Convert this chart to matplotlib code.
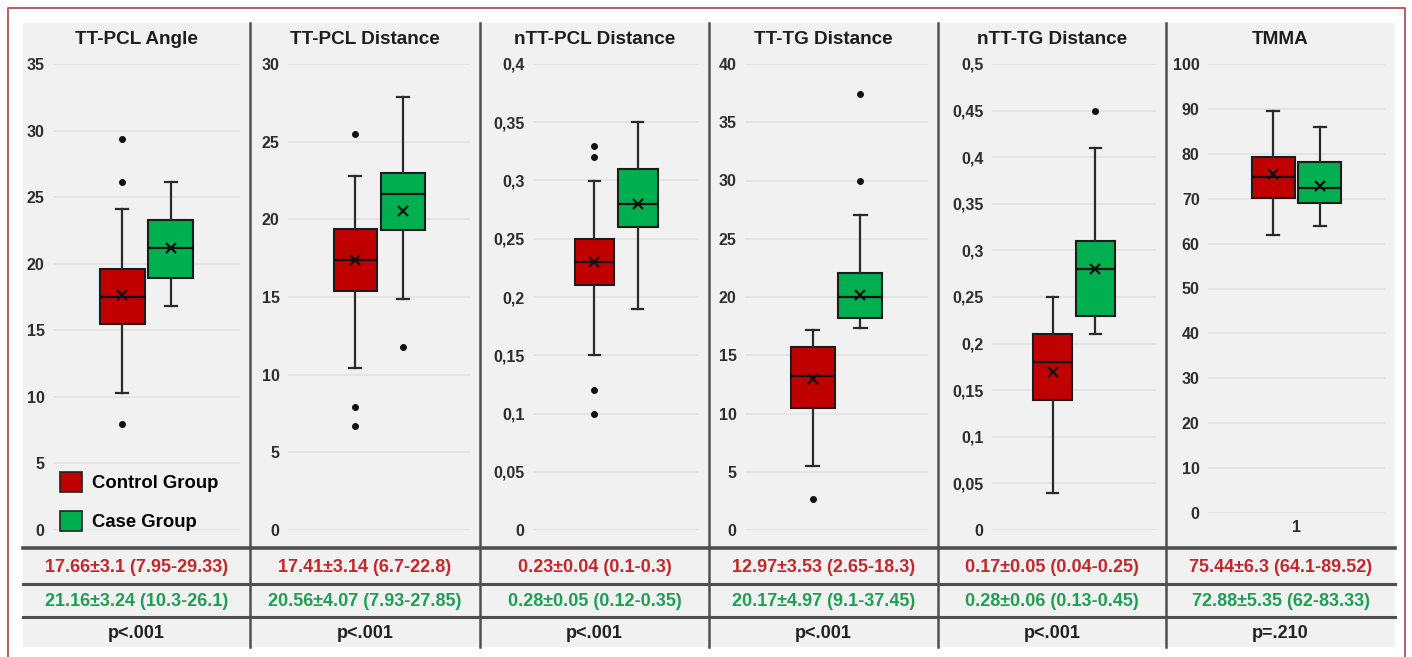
import matplotlib
matplotlib.use("Agg")
import matplotlib.pyplot as plt
from matplotlib.patches import Rectangle, Patch
from matplotlib.lines import Line2D
from matplotlib.ticker import FuncFormatter, MultipleLocator

plt.rcParams['font.family'] = ['Liberation Sans', 'DejaVu Sans']

# ---- data ---------------------------------------------------------------
titles = ["TT-PCL Angle", "TT-PCL Distance", "nTT-PCL Distance",
          "TT-TG Distance", "nTT-TG Distance", "TMMA"]
y_max = [35, 30, 0.4, 40, 0.5, 100]
y_step = [5, 5, 0.05, 5, 0.05, 10]

# Control group box statistics
ctrl_whislo = [10.3, 10.4, 0.15, 5.5, 0.04, 62.0]
ctrl_q1 = [15.5, 15.4, 0.21, 10.5, 0.14, 70.1]
ctrl_med = [17.5, 17.4, 0.23, 13.2, 0.18, 74.8]
ctrl_q3 = [19.6, 19.4, 0.25, 15.7, 0.21, 79.3]
ctrl_whishi = [24.1, 22.8, 0.30, 17.2, 0.25, 89.5]
ctrl_fliers = [[29.33, 26.1, 7.95], [25.5, 7.9, 6.7], [0.33, 0.32, 0.12, 0.10],
               [2.65], [], []]
ctrl_mean = [17.66, 17.41, 0.23, 12.97, 0.17, 75.44]
ctrl_sd = [3.1, 3.14, 0.04, 3.53, 0.05, 6.3]
ctrl_min = [7.95, 6.7, 0.1, 2.65, 0.04, 64.1]
ctrl_max = [29.33, 22.8, 0.3, 18.3, 0.25, 89.52]

# Case group box statistics
case_whislo = [16.8, 14.9, 0.19, 17.3, 0.21, 64.0]
case_q1 = [18.9, 19.3, 0.26, 18.2, 0.23, 69.0]
case_med = [21.2, 21.6, 0.28, 20.0, 0.28, 72.4]
case_q3 = [23.3, 23.0, 0.31, 22.1, 0.31, 78.2]
case_whishi = [26.1, 27.85, 0.35, 27.0, 0.41, 86.0]
case_fliers = [[], [11.8], [], [30.0, 37.45], [0.45], []]
case_mean = [21.16, 20.56, 0.28, 20.17, 0.28, 72.88]
case_sd = [3.24, 4.07, 0.05, 4.97, 0.06, 5.35]
case_min = [10.3, 7.93, 0.12, 9.1, 0.13, 62]
case_max = [26.1, 27.85, 0.35, 37.45, 0.45, 83.33]

p_values = ["p<.001", "p<.001", "p<.001", "p<.001", "p<.001", "p=.210"]
group_labels = ["Control Group", "Case Group"]

# ---- styling ------------------------------------------------------------
RED = "#c00000"
GREEN = "#00b050"
RED_TXT = "#c0282d"
GREEN_TXT = "#1e9e55"
BG = "#f1f1f1"
GRID = "#e1e1e1"
SEP = "#4f4f4f"

W, H = 1412, 657
fig = plt.figure(figsize=(W / 100, H / 100), dpi=100, facecolor="white")


def fx(px):
    return px / W


def fy(py):
    return 1 - py / H


# panel layout (pixels)
panel_edges = [23, 250, 480, 709, 938, 1166, 1395]
grid_left = [53, 288, 533, 745, 992, 1208]
plot_top = 64
plot_bottom = [530, 530, 530, 530, 530, 513]

# grey content background
fig.patches.append(Rectangle((fx(23), fy(647)), fx(1395 - 23), (647 - 23) / H,
                             transform=fig.transFigure, facecolor=BG,
                             edgecolor="none", zorder=-10))

# outer frame (open at the bottom)
fig.lines.append(Line2D([fx(8), fx(8), fx(1405), fx(1405)],
                        [fy(657), fy(8), fy(8), fy(657)],
                        transform=fig.transFigure, color="#b4505c", lw=1.3,
                        zorder=5))


def fmt_tick(v, _pos):
    s = f"{round(v, 3):g}"
    return s.replace(".", ",")


def fmt_num(v):
    return f"{v:g}"


for i in range(6):
    left = grid_left[i]
    right = panel_edges[i + 1] - 10
    bottom = plot_bottom[i]
    ax = fig.add_axes([fx(left), fy(bottom), fx(right - left),
                       (bottom - plot_top) / H])
    ax.set_facecolor("none")

    stats = [
        dict(whislo=ctrl_whislo[i], q1=ctrl_q1[i], med=ctrl_med[i],
             q3=ctrl_q3[i], whishi=ctrl_whishi[i], mean=ctrl_mean[i],
             fliers=ctrl_fliers[i]),
        dict(whislo=case_whislo[i], q1=case_q1[i], med=case_med[i],
             q3=case_q3[i], whishi=case_whishi[i], mean=case_mean[i],
             fliers=case_fliers[i]),
    ]
    bp = ax.bxp(stats, positions=[1, 2], widths=0.92, capwidths=0.26,
                patch_artist=True, showmeans=True,
                boxprops=dict(edgecolor="#1c1c1c", linewidth=1.5),
                whiskerprops=dict(color="#2a2a2a", linewidth=1.6),
                capprops=dict(color="#2a2a2a", linewidth=1.6),
                medianprops=dict(color="#111111", linewidth=1.6),
                meanprops=dict(marker="x", markeredgecolor="#111111",
                               markersize=6.5, markeredgewidth=1.6),
                flierprops=dict(marker="o", markerfacecolor="#111111",
                                markeredgecolor="#111111", markersize=4))
    for patch, col in zip(bp["boxes"], [RED, GREEN]):
        patch.set_facecolor(col)

    ax.set_xlim(-0.42, 3.42)
    ax.set_ylim(0, y_max[i])
    ax.yaxis.set_major_locator(MultipleLocator(y_step[i]))
    ax.yaxis.set_major_formatter(FuncFormatter(fmt_tick))
    ax.grid(axis="y", color=GRID, linewidth=1.1)
    ax.set_axisbelow(True)
    for sp in ax.spines.values():
        sp.set_visible(False)
    ax.tick_params(axis="y", length=0, pad=6, labelsize=11.5,
                   labelcolor="#2e2e2e")
    for lab in ax.get_yticklabels():
        lab.set_fontweight("bold")
    if i == 5:
        ax.set_xticks([1.5])
        ax.set_xticklabels(["1"], fontweight="bold", fontsize=11.5,
                           color="#2e2e2e")
        ax.tick_params(axis="x", length=0, pad=5)
    else:
        ax.set_xticks([])

    cx = (panel_edges[i] + panel_edges[i + 1]) / 2
    fig.text(fx(cx), fy(40), titles[i], ha="center", va="center",
             fontsize=13.6, fontweight="bold", color="#1e1e1e")

    # summary rows under each panel
    fig.text(fx(cx), fy(567),
             f"{fmt_num(ctrl_mean[i])}±{fmt_num(ctrl_sd[i])} "
             f"({fmt_num(ctrl_min[i])}-{fmt_num(ctrl_max[i])})",
             ha="center", va="center", fontsize=13, fontweight="bold",
             color=RED_TXT)
    fig.text(fx(cx), fy(601),
             f"{fmt_num(case_mean[i])}±{fmt_num(case_sd[i])} "
             f"({fmt_num(case_min[i])}-{fmt_num(case_max[i])})",
             ha="center", va="center", fontsize=13, fontweight="bold",
             color=GREEN_TXT)
    fig.text(fx(cx), fy(633), p_values[i], ha="center", va="center",
             fontsize=13, fontweight="bold", color="#222222")

    if i == 0:
        handles = [Patch(facecolor=RED, edgecolor="#222222", linewidth=1.2),
                   Patch(facecolor=GREEN, edgecolor="#222222", linewidth=1.2)]
        ax.legend(handles, group_labels, loc="lower left",
                  bbox_to_anchor=(0.035, -0.002), frameon=False,
                  borderaxespad=0, borderpad=0,
                  prop=dict(weight="bold", size=13.3),
                  handlelength=1.2, handleheight=1.3,
                  handletextpad=0.55, labelspacing=1.0)

# panel separators
for xe in panel_edges[1:-1]:
    fig.lines.append(Line2D([fx(xe), fx(xe)], [fy(23), fy(647)],
                            transform=fig.transFigure, color=SEP, lw=1.8,
                            zorder=5))

# table row rules
for yr, lw in [(548, 2.6), (584, 2.2), (617, 2.2)]:
    fig.lines.append(Line2D([fx(23), fx(1395)], [fy(yr), fy(yr)],
                            transform=fig.transFigure, color=SEP, lw=lw,
                            zorder=5))

fig.savefig("out.png", dpi=100, facecolor="white")
